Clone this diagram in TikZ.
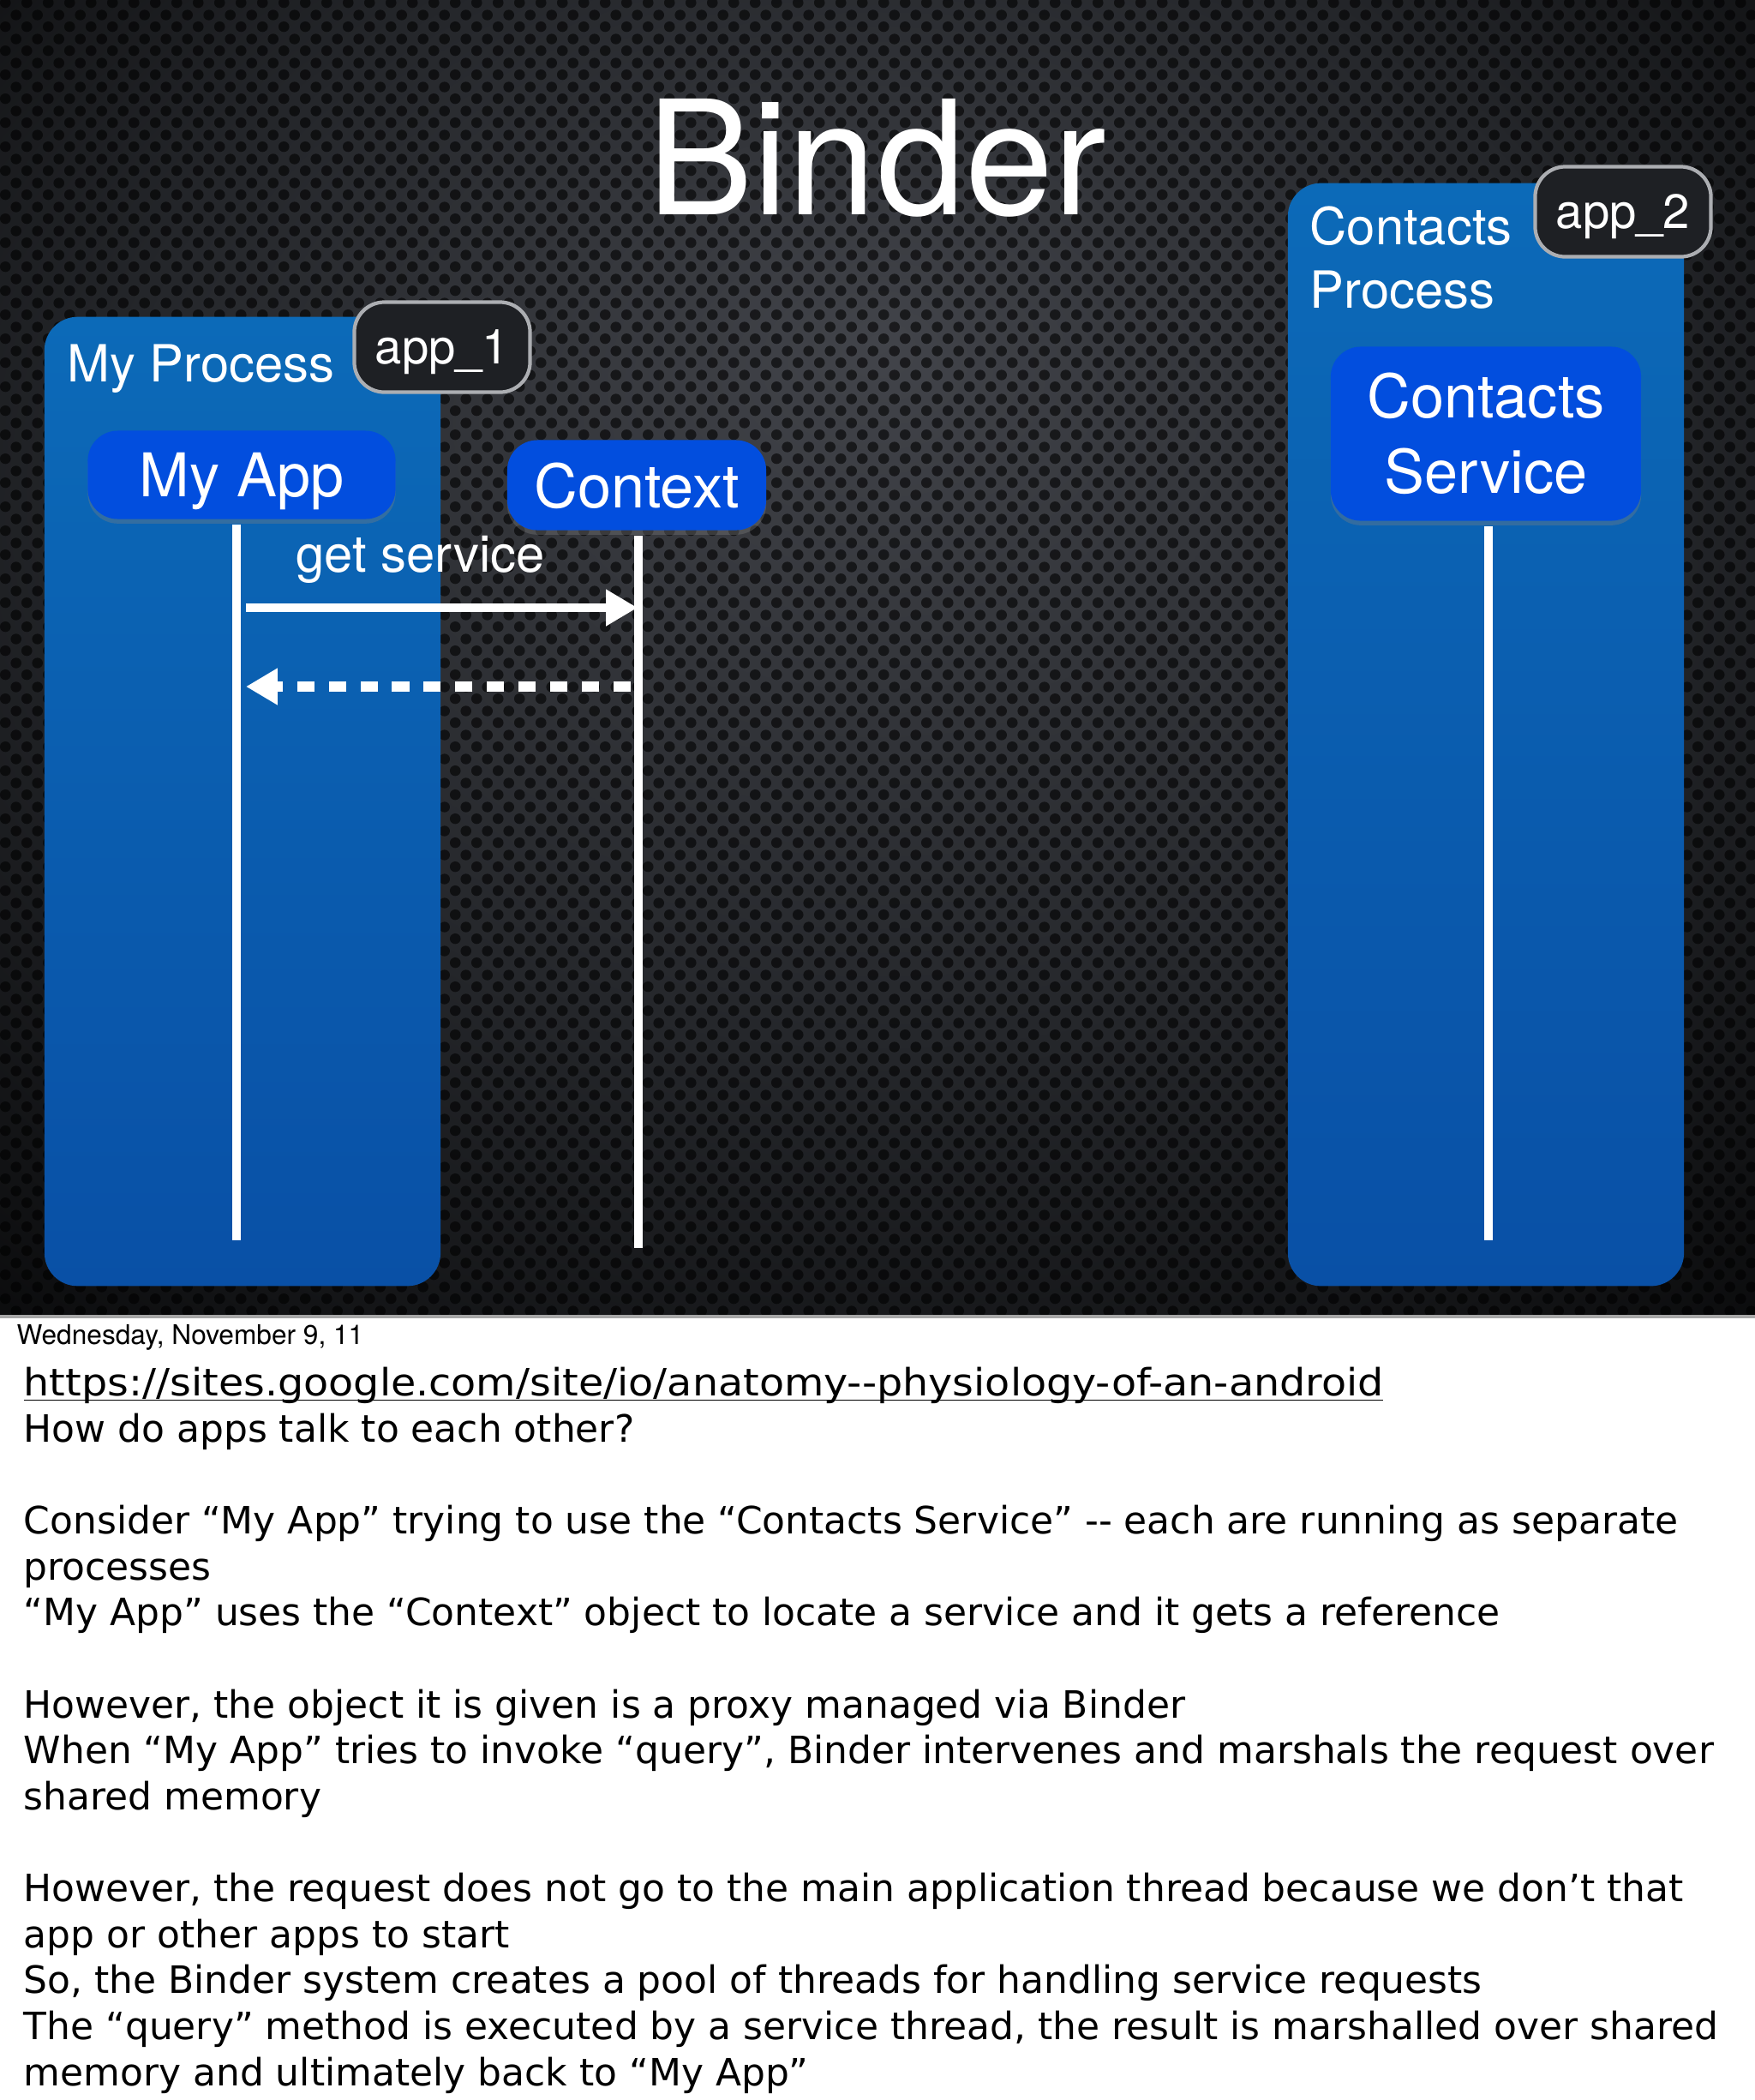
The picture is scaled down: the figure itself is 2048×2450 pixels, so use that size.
\documentclass[tikz,border=0pt]{standalone}
\usepackage{fontspec}
\usepackage{graphicx}
\setmainfont{TeX Gyre Heros}
\newfontfamily\notesfont{DejaVu Sans}
\usetikzlibrary{arrows.meta,shadows,patterns}

\definecolor{procblue}{RGB}{12,106,184}
\definecolor{procdark}{RGB}{9,80,166}
\definecolor{appblue}{RGB}{2,78,222}
\definecolor{slidegray}{RGB}{66,68,74}
\definecolor{slidemid}{RGB}{36,38,42}
\definecolor{badgegray}{RGB}{30,32,36}
\definecolor{badgeline}{RGB}{172,174,178}

\pgfdeclareradialshading{vignette}{\pgfpoint{0bp}{12bp}}{%
  color(0bp)=(slidegray); color(22bp)=(slidemid); color(45bp)=(black); color(50bp)=(black)}
\pgfdeclarepatternformonly{mesh}{\pgfqpoint{0pt}{0pt}}{\pgfqpoint{7.1pt}{8pt}}{\pgfqpoint{7.1pt}{8pt}}{%
  \pgfpathcircle{\pgfqpoint{1.78pt}{2pt}}{1.8pt}
  \pgfpathcircle{\pgfqpoint{5.33pt}{6pt}}{1.8pt}
  \pgfusepath{fill}}

\begin{document}
\begin{tikzpicture}
  [%%%%%%%%%%%%%%%%%%%%%%%%%%%%%%
  x=0.01cm, y=-0.01cm,
  procbox/.style={rectangle, rounded corners=11pt, top color=procblue, bottom color=procdark, minimum width=4.62cm},
  appbox/.style={rectangle, rounded corners=10pt, fill=appblue, text=white, drop shadow={opacity=0.35,shadow xshift=0pt,shadow yshift=-1.5pt}, font=\fontsize{20}{25}\selectfont},
  badge/.style={rectangle, rounded corners=10pt, fill=badgegray, draw=badgeline, line width=1.2pt, text=white, minimum width=2.05cm, minimum height=1.05cm, text depth=0pt, font=\fontsize{16}{19}\selectfont},
  proclabel/.style={text=white, inner sep=0pt, align=left, font=\fontsize{17}{20.8}\selectfont},
  lifeline/.style={draw=white, line width=2.6pt, shorten <=1.7pt},
  call/.style={draw=white, line width=2.8pt, -{Triangle[length=10.5pt,width=11.5pt]}},
  reply/.style={call, line width=3.3pt, dash pattern=on 5.7pt off 4.8pt},
  ]%%%%%%%%%%%%%%%%%%%%%%%%%%%%%%

  \useasboundingbox (0,0) rectangle (2048,2450);

  % slide background
  \shade[shading=vignette] (0,0) rectangle (2048,1535);
  \fill[pattern=mesh, pattern color=black, fill opacity=0.6] (0,0) rectangle (2048,1535);
  \fill[white] (0,1535) rectangle (2048,2450);
  \draw[line width=1.2pt, gray!70] (0,1536) -- (2048,1536);

  \node[text=white, anchor=base, font=\fontsize{52.7}{60}\selectfont] (title) at (1023,250) {Binder};

  % processes
  \node[procbox, minimum height=11.3cm] (myproc) at (283,935) {};
  \node[procbox, minimum height=12.86cm] (contproc) at (1734,857) {};

  \node[proclabel, anchor=base west] (myproclabel) at (78,445) {My Process};
  \node[badge] (app1) at (516,405) {app\_1};
  % base of a two line node is its last line
  \node[proclabel, anchor=base west] (contproclabel) at (1528,359) {Contacts\\Process};
  \node[badge] (app2) at (1894,247) {app\_2};

  % objects
  \node[appbox, minimum width=3.59cm, minimum height=1.03cm, text depth=0pt] (myapp) at (282,554) {My App};
  \node[appbox, minimum width=3.02cm, minimum height=1.05cm, text depth=0pt] (context) at (743,566) {Context};
  \node[appbox, minimum width=3.62cm, minimum height=2.03cm, align=center] (contsvc) at (1734,506) {Contacts\\Service};

  % lifelines
  \coordinate (myappend) at (276,1447);
  \coordinate (contextend) at (745,1456);
  \coordinate (contsvcend) at (1737,1447);
  \draw[lifeline] (myapp.south -| myappend) -- (myappend);
  \draw[lifeline] (context.south -| contextend) -- (contextend);
  \draw[lifeline] (contsvc.south -| contsvcend) -- (contsvcend);

  % messages
  \coordinate (getfrom) at (287,709);
  \coordinate (getto) at (744,709);
  \coordinate (retfrom) at (736,801);
  \coordinate (retto) at (287,801);
  \draw[call] (getfrom) -- node[pos=0.445, above=6.8pt, inner sep=0pt, text=white, font=\fontsize{17}{20}\selectfont] (getlabel) {get service} (getto);
  \draw[reply] (retfrom) -- (retto);

  % speaker notes
  \node[anchor=base west, inner sep=0pt, font=\fontsize{9}{10}\selectfont] (date) at (19,1568) {Wednesday, November 9, 11};
  \node[anchor=base west, inner sep=0pt, align=left, font=\notesfont\fontsize{12.5}{15.25}\selectfont] (notes) at (27,2433) {%
    \underline{\raisebox{0pt}[\height][0pt]{\scalebox{1.083}[1]{https://sites.google.com/site/io/anatomy-\kern0pt-physiology-of-an-android}}}\\
    How do apps talk to each other?\\[15.25pt]
    Consider “My App” trying to use the “Contacts Service” -\kern0pt- each are running as separate\\
    processes\\
    “My App” uses the “Context” object to locate a service and it gets a reference\\[15.25pt]
    However, the object it is given is a proxy managed via Binder\\
    When “My App” tries to invoke “query”, Binder intervenes and marshals the request over\\
    shared memory\\[15.25pt]
    However, the request does not go to the main application thread because we don’t that\\
    app or other apps to start\\
    So, the Binder system creates a pool of threads for handling service requests\\
    The “query” method is executed by a service thread, the result is marshalled over shared\\
    memory and ultimately back to “My App”};
\end{tikzpicture}
\end{document}
